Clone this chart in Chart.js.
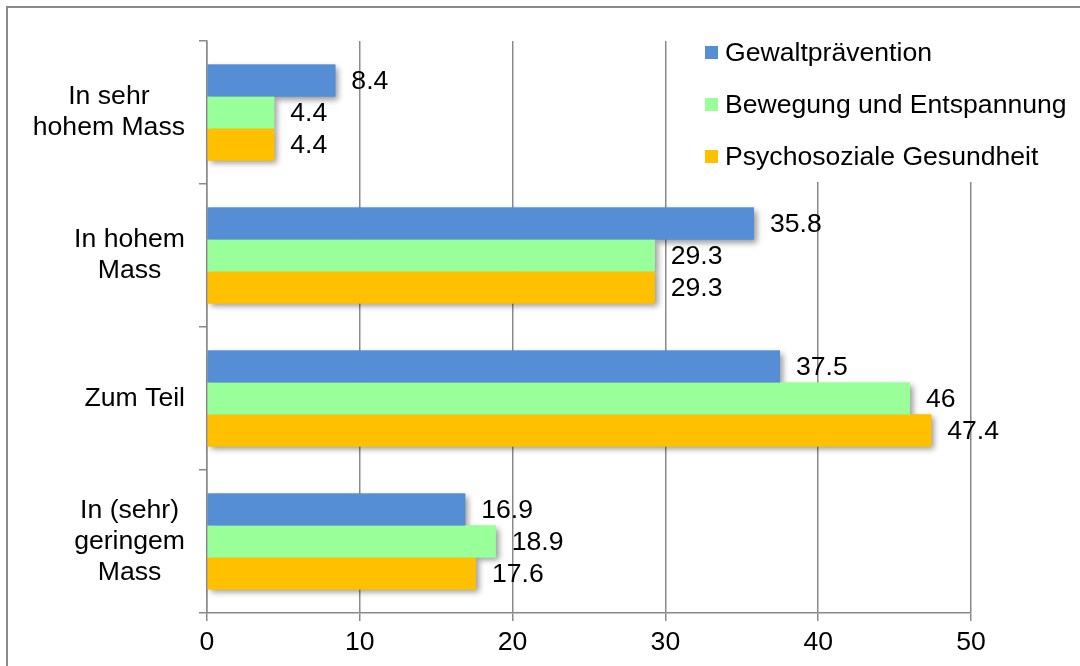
<!DOCTYPE html>
<html>
<head>
<meta charset="utf-8">
<script src="https://cdn.jsdelivr.net/npm/chart.js@4.4.1/dist/chart.umd.min.js"></script>
<style>
  html, body { margin: 0; padding: 0; background: #fff; overflow: hidden; }
  #wrap { width: 1080px; height: 666px; }
</style>
</head>
<body>
<div id="wrap"><canvas id="c" width="1080" height="666"></canvas></div>
<script>
// Kategorien (mehrzeilig wie im Original)
const categories = [
  ['In sehr', 'hohem Mass'],
  ['In hohem', 'Mass'],
  ['Zum Teil'],
  ['In (sehr)', 'geringem', 'Mass']
];
const seriesNames = ['Gewaltprävention', 'Bewegung und Entspannung', 'Psychosoziale Gesundheit'];
const gewalt     = [8.4, 35.8, 37.5, 16.9];
const bewegung   = [4.4, 29.3, 46, 18.9];
const psycho     = [4.4, 29.3, 47.4, 17.6];
const xTicks     = [0, 10, 20, 30, 40, 50];
const colors     = ['#558ED5', '#99FF99', '#FFC000'];

const FONT = '"Liberation Sans", Arial, sans-serif';
const FS = 26.6;
const GRID = '#8a8a8a';

// Rahmen, Schatten, Werte, Kategorien und Legende
const decor = {
  id: 'decor',
  beforeDraw(chart) {
    const c = chart.ctx;
    c.save();
    c.strokeStyle = GRID;
    c.lineWidth = 2;
    c.strokeRect(7, 7, 1200, 800);
    c.restore();
  },
  beforeDatasetsDraw(chart) {
    const c = chart.ctx;
    c.save();
    chart.data.datasets.forEach((ds, i) => {
      chart.getDatasetMeta(i).data.forEach(bar => {
        const p = bar.getProps(['x', 'y', 'base', 'height'], true);
        const l = Math.min(p.base, p.x), w = Math.abs(p.x - p.base);
        c.shadowColor = 'rgba(0,0,0,0.4)';
        c.shadowBlur = 6;
        c.shadowOffsetX = 3;
        c.shadowOffsetY = 3;
        c.fillStyle = ds.backgroundColor;
        c.fillRect(l, p.y - p.height / 2, w, p.height);
      });
    });
    c.restore();
  },
  afterDatasetsDraw(chart) {
    const c = chart.ctx;
    c.save();
    c.font = FS + 'px ' + FONT;
    c.fillStyle = '#000';
    c.textBaseline = 'middle';
    c.textAlign = 'left';
    chart.data.datasets.forEach((ds, i) => {
      chart.getDatasetMeta(i).data.forEach((bar, j) => {
        c.fillText(String(ds.data[j]), bar.x + 16, bar.y + 1);
      });
    });

    // Kategorien-Beschriftung: Block rechtsbündig, Zeilen zentriert
    const ys = chart.scales.y;
    c.textAlign = 'center';
    categories.forEach((lines, k) => {
      const cy = ys.getPixelForValue(k);
      const maxW = Math.max(...lines.map(s => c.measureText(s).width));
      const cx = 185 - maxW / 2;
      const lh = 31;
      lines.forEach((s, n) => {
        c.fillText(s, cx, cy + (n - (lines.length - 1) / 2) * lh);
      });
    });

    // Legende mit weissem Hintergrund
    c.fillStyle = '#fff';
    c.fillRect(695, 24, 380, 158);
    c.textAlign = 'left';
    seriesNames.forEach((name, k) => {
      const y = 53 + k * 52;
      c.fillStyle = colors[k];
      c.fillRect(705, y - 7, 13, 13);
      c.fillStyle = '#000';
      c.fillText(name, 725, y + 1);
    });
    c.restore();
  }
};

new Chart(document.getElementById('c'), {
  type: 'bar',
  data: {
    labels: categories.map(l => l.join(' ')),
    datasets: [
      { label: seriesNames[0], data: gewalt,   backgroundColor: colors[0] },
      { label: seriesNames[1], data: bewegung, backgroundColor: colors[1] },
      { label: seriesNames[2], data: psycho,   backgroundColor: colors[2] }
    ]
  },
  options: {
    indexAxis: 'y',
    responsive: false,
    animation: false,
    devicePixelRatio: 1,
    categoryPercentage: 0.67,
    barPercentage: 1,
    layout: { padding: { left: 0, right: 109, top: 41, bottom: 0 } },
    plugins: { legend: { display: false }, tooltip: { enabled: false } },
    scales: {
      x: {
        min: 0, max: 50,
        afterBuildTicks: s => { s.ticks = xTicks.map(v => ({ value: v })); },
        afterFit: s => { s.height = 53; },
        grid: { color: GRID, lineWidth: 1.5, tickLength: 8, drawTicks: true },
        border: { display: true, color: GRID, width: 1.5 },
        ticks: { color: '#000', font: { family: FONT, size: FS }, padding: 6, maxRotation: 0 }
      },
      y: {
        afterFit: s => { s.width = 207; },
        grid: { drawOnChartArea: false, color: GRID, lineWidth: 1.5, tickLength: 8, offset: true },
        border: { display: true, color: GRID, width: 1.5 },
        ticks: { display: false }
      }
    }
  },
  plugins: [decor]
});
</script>
</body>
</html>
